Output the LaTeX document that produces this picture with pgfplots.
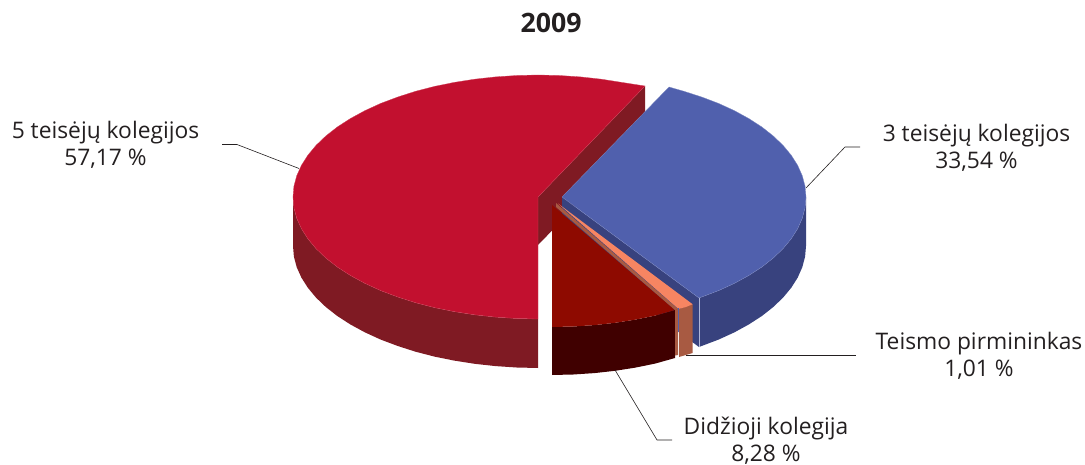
\documentclass[border=0pt]{standalone}
\usepackage{fontspec}
\setmainfont{Open Sans}
\usepackage{pgfplots}
\pgfplotsset{compat=1.18}
\definecolor{redtop}{HTML}{C2102F}
\definecolor{redside}{HTML}{7F1A23}
\definecolor{bluetop}{HTML}{5060AD}
\definecolor{blueside}{HTML}{38427E}
\definecolor{maroontop}{HTML}{8E0A00}
\definecolor{maroonside}{HTML}{400000}
\definecolor{orangetop}{HTML}{F78562}
\definecolor{orangeside}{HTML}{A85A42}
\definecolor{ink}{HTML}{231F20}
\tikzset{lab/.style={font=\fontsize{22.8}{27}\selectfont, text=ink, align=center, inner sep=0pt}}
\begin{document}
\begin{tikzpicture}
\begin{axis}[
    scale only axis,
    width=1085pt, height=465pt,
    xmin=0, xmax=1085, ymin=0, ymax=465,
    y dir=reverse,
    hide axis,
    clip=false,
    every axis plot/.append style={line join=round},
]
% keeps the page the size of the whole axis
\addplot[draw=none] coordinates {(0,0) (1085,465)};
% 5 teiseju: cut face, side, top
\addplot[fill=redside, draw=none] coordinates {(645,86) (538,197) (538,245) (645,135)} -- cycle;
\addplot[fill=redside, draw=none] coordinates {
(293,197) (293.9,207.6) (296.7,218.2) (301.4,228.6) (307.8,238.7) (316,248.6) (325.8,258) (337.3,267)
(350.3,275.4) (364.8,283.3) (380.5,290.5) (397.5,296.9) (415.5,302.7) (434.5,307.6) (454.2,311.6)
(474.6,314.8) (495.5,317.1) (516.6,318.5) (538,319)
(538,368) (516.6,367.5) (495.5,366.1) (474.6,363.8) (454.2,360.6) (434.5,356.6) (415.5,351.7)
(397.5,345.9) (380.5,339.5) (364.8,332.3) (350.3,324.4) (337.3,316) (325.8,307) (316,297.6)
(307.8,287.7) (301.4,277.6) (296.7,267.2) (293.9,256.6) (293,246)} -- cycle;
\addplot[fill=redtop, draw=redtop!80!white, line width=0.3pt] coordinates {
(538,197) (645,86) (621.8,82.4) (601.4,79.2) (580.5,76.9) (559.4,75.5) (538,75) (516.6,75.5) (495.5,76.9)
(474.6,79.2) (454.2,82.4) (434.5,86.4) (415.5,91.3) (397.5,97.1) (380.5,103.5) (364.8,110.7) (350.3,118.6)
(337.3,127) (325.8,136) (316,145.4) (307.8,155.3) (301.4,165.4) (296.7,175.8) (293.9,186.4) (293,197)
(293.9,207.6) (296.7,218.2) (301.4,228.6) (307.8,238.7) (316,248.6) (325.8,258) (337.3,267)
(350.3,275.4) (364.8,283.3) (380.5,290.5) (397.5,296.9) (415.5,302.7) (434.5,307.6) (454.2,311.6)
(474.6,314.8) (495.5,317.1) (516.6,318.5) (538,319)} -- cycle;
% 3 teiseju
\addplot[fill=blueside, draw=none] coordinates {(562,197) (699,298) (699,347) (562,246)} -- cycle;
\addplot[fill=blueside, draw=none] coordinates {
(806,197) (805.1,207.6) (802.3,218.2) (797.7,228.6) (791.3,238.7) (783.1,248.6) (773.3,258) (761.9,267)
(748.9,275.4) (734.5,283.3) (718.8,290.5) (699,298)
(699,347) (718.8,339.5) (734.5,332.3) (748.9,324.4) (761.9,316) (773.3,307) (783.1,297.6) (791.3,287.7)
(797.7,277.6) (802.3,267.2) (805.1,256.6) (806,246)} -- cycle;
\addplot[fill=bluetop, draw=bluetop!75!white, line width=0.3pt] coordinates {
(562,197) (669,87) (684,91.3) (702,97.1) (718.8,103.5) (734.5,110.7) (748.9,118.6) (761.9,127) (773.3,136)
(783.1,145.4) (791.3,155.3) (797.7,165.4) (802.3,175.8) (805.1,186.4) (806,197) (805.1,207.6) (802.3,218.2)
(797.7,228.6) (791.3,238.7) (783.1,248.6) (773.3,258) (761.9,267) (748.9,275.4) (734.5,283.3) (718.8,290.5)
(699,298)} -- cycle;
\addplot[draw=bluetop!45!white, line width=0.5pt] coordinates {(699,298) (699,347)};
% Didzioji
\addplot[fill=maroonside, draw=none] coordinates {
(552,327) (573.3,326.5) (594.4,325.1) (615.1,322.8) (635.5,319.6) (655.1,315.6) (675,310)
(675,358) (655.1,363.6) (635.5,367.6) (615.1,370.8) (594.4,373.1) (573.3,374.5) (552,375)} -- cycle;
\addplot[fill=maroontop, draw=none] coordinates {
(552,205) (675,310) (655.1,315.6) (635.5,319.6) (615.1,322.8) (594.4,325.1) (573.3,326.5) (552,327)} -- cycle;
% Teismo pirmininkas
\addplot[fill=orangeside, draw=none] coordinates {(556,203) (678,309) (675,310) (556,207)} -- cycle;
\addplot[fill=orangeside, draw=none] coordinates {(675,310) (678,309) (678,355) (675,355.5)} -- cycle;
\addplot[fill=orangeside, draw=none] coordinates {(679,309) (692.7,304.3) (692.7,353) (679,357)} -- cycle;
\addplot[fill=orangetop, draw=none] coordinates {(558,203.5) (692.7,304.3) (686,307) (678.5,309)} -- cycle;
\addplot[draw=bluetop, line width=0.6pt] coordinates {(678.5,308) (678.5,332)};
% leader lines
\addplot[draw=ink, line width=0.6pt] coordinates {(222,144.5) (237,144.5) (299,168.5)};
\addplot[draw=ink, line width=0.6pt] coordinates {(806,188) (845,147) (860,147)};
\addplot[draw=ink, line width=0.6pt] coordinates {(686,355) (856,355)};
\addplot[draw=ink, line width=0.6pt] coordinates {(615,370) (657,440) (672,440)};
% text
\node[font=\fontsize{26.7}{30}\selectfont\bfseries, text=ink, inner sep=0pt] at (axis cs:551,23) {2009};
\node[lab] at (axis cs:105.5,144.5) {5 teisėjų kolegijos\\57,17 \%};
\node[lab] at (axis cs:976.5,147.5) {3 teisėjų kolegijos\\33,54 \%};
\node[lab] at (axis cs:979,355.5) {Teismo pirmininkas\\1,01 \%};
\node[lab] at (axis cs:766,440.5) {Didžioji kolegija\\8,28 \%};
\end{axis}
\end{tikzpicture}
\end{document}
